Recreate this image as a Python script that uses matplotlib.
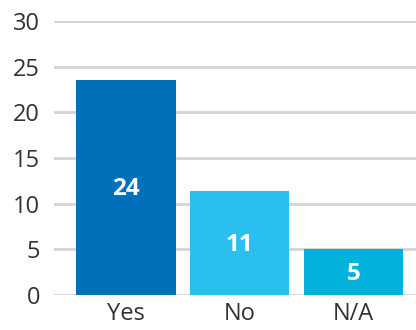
import matplotlib
matplotlib.use("Agg")
import matplotlib.pyplot as plt

# Respuestas por categoría
categorias = ["Yes", "No", "N/A"]
valores = [23.6, 11.4, 5.0]
colores = ["#0070BA", "#29C0F0", "#00B2DC"]

plt.rcParams['font.family'] = ['Open Sans', 'DejaVu Sans']

fig = plt.figure(figsize=(4.16, 3.30), dpi=100)
ax = fig.add_axes([0.13, 0.106, 0.87, 0.83])

x = range(len(categorias))
barras = ax.bar(x, valores, width=0.875, color=colores, zorder=3)

# Etiqueta blanca centrada en cada barra
for b, v in zip(barras, valores):
    ax.text(b.get_x() + b.get_width() / 2, v / 2 - 0.2, f"{v:.0f}",
            ha='center', va='center', color='white', fontsize=17.5,
            fontweight='bold', zorder=4)

ax.set_ylim(0, 30)
ax.set_xlim(-0.63, 2.55)
ax.set_yticks(range(0, 31, 5))
ax.set_xticks(list(x))
ax.set_xticklabels(categorias)

ax.grid(axis='y', color='#D4D4D4', linewidth=2, zorder=0)
ax.set_axisbelow(True)
for s in ax.spines.values():
    s.set_visible(False)
ax.tick_params(axis='both', length=0, labelsize=17, colors='#333333')
ax.tick_params(axis='y', pad=10)
ax.tick_params(axis='x', pad=5)

fig.savefig("out.png", dpi=100)
